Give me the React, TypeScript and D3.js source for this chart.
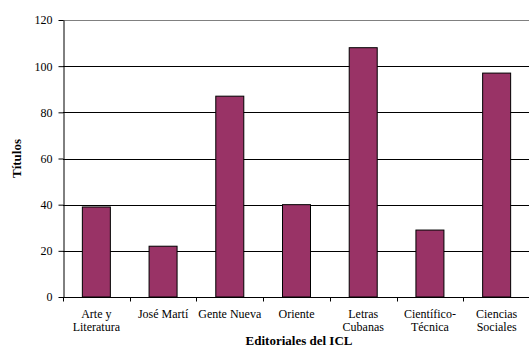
import React, { useEffect, useRef } from "react";
import * as d3 from "d3";

// editoriales y títulos publicados
const categories = [
  ["Arte y", "Literatura"],
  ["José Martí"],
  ["Gente Nueva"],
  ["Oriente"],
  ["Letras", "Cubanas"],
  ["Científico-", "Técnica"],
  ["Ciencias", "Sociales"],
];
const titulos = [39, 22, 87, 40, 108, 29, 97];
const yTicks = [0, 20, 40, 60, 80, 100, 120];

export default function App() {
  const ref = useRef<SVGSVGElement>(null);

  useEffect(() => {
    const width = 529, height = 352;
    const margin = { top: 20, right: 0, bottom: 55, left: 63 };
    const svg = d3.select(ref.current);
    svg.selectAll("*").remove();

    const ids = categories.map((_, i) => String(i));
    const x = d3.scaleBand().domain(ids).range([margin.left, width - margin.right + 1]).paddingInner(0).paddingOuter(0);
    const y = d3.scaleLinear().domain([0, 120]).range([height - margin.bottom, margin.top]);

    const font = "'Liberation Serif', 'Times New Roman', serif";

    // grid lines
    svg.append("g")
      .selectAll("line")
      .data(yTicks.filter(d => d > 0))
      .join("line")
      .attr("x1", margin.left)
      .attr("x2", width)
      .attr("y1", d => Math.round(y(d)) + 0.5)
      .attr("y2", d => Math.round(y(d)) + 0.5)
      .attr("stroke", d => (d === 120 ? "#808080" : "#000"))
      .attr("stroke-width", 1);

    // bars
    const barW = 28;
    svg.append("g")
      .selectAll("rect")
      .data(titulos)
      .join("rect")
      .attr("x", (_, i) => x(String(i))! + x.bandwidth() / 2 - barW / 2)
      .attr("y", d => y(d))
      .attr("width", barW)
      .attr("height", d => y(0) - y(d))
      .attr("fill", "#993366")
      .attr("stroke", "#000")
      .attr("stroke-width", 1);

    // y axis
    const yAxis = svg.append("g")
      .attr("transform", `translate(${margin.left + 0.5},0)`)
      .call(d3.axisLeft(y).tickValues(yTicks).tickSize(5).tickPadding(6).tickSizeOuter(0));
    yAxis.select(".domain").attr("stroke", "#000");
    yAxis.selectAll("text").attr("font-family", font).attr("font-size", 12).attr("fill", "#000");

    // x axis
    const xAxis = svg.append("g").attr("transform", `translate(0,${Math.round(y(0)) + 0.5})`);
    xAxis.append("line").attr("x1", margin.left).attr("x2", width).attr("stroke", "#000");
    xAxis.selectAll("line.tick")
      .data(d3.range(ids.length + 1))
      .join("line")
      .attr("class", "tick")
      .attr("x1", i => Math.round(margin.left + i * x.bandwidth()) + 0.5)
      .attr("x2", i => Math.round(margin.left + i * x.bandwidth()) + 0.5)
      .attr("y1", 0)
      .attr("y2", 4)
      .attr("stroke", "#000");
    xAxis.selectAll("text.lbl")
      .data(categories)
      .join("text")
      .attr("class", "lbl")
      .attr("x", (_, i) => x(String(i))! + x.bandwidth() / 2)
      .attr("text-anchor", "middle")
      .attr("font-family", font)
      .attr("font-size", 12)
      .selectAll("tspan")
      .data(d => d)
      .join("tspan")
      .attr("x", function () { return (this.parentNode as SVGTextElement).getAttribute("x"); })
      .attr("y", (_, j) => 20 + j * 13)
      .text(d => d);

    // axis titles
    svg.append("text")
      .attr("x", 299)
      .attr("y", 345)
      .attr("text-anchor", "middle")
      .attr("font-family", font)
      .attr("font-size", 13)
      .attr("font-weight", "bold")
      .text("Editoriales del ICL");

    svg.append("text")
      .attr("transform", `translate(21,${(margin.top + y(0)) / 2}) rotate(-90)`)
      .attr("text-anchor", "middle")
      .attr("font-family", font)
      .attr("font-size", 13)
      .attr("font-weight", "bold")
      .text("Títulos");
  }, []);

  return (
    <svg ref={ref} width={529} height={352}
      style={{ position: "absolute", left: 0, top: 0, background: "#fff" }} />
  );
}
